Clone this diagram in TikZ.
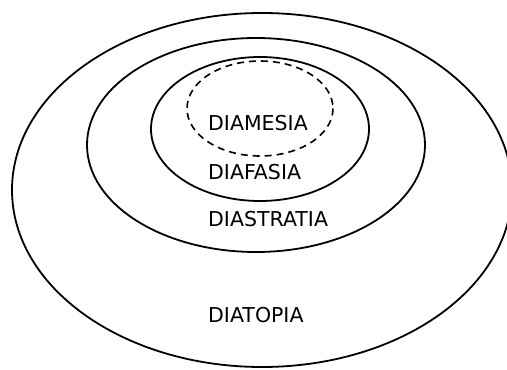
\documentclass[tikz,border=0pt]{standalone}
\usepackage{fontspec}
\setmainfont{DejaVu Sans}
\begin{document}
\begin{tikzpicture}[x=1pt,y=-1pt,
  ring/.style={line width=1.8pt, black},
  dashring/.style={line width=1.6pt, black, dash pattern=on 7pt off 5pt},
  lab/.style={anchor=west, inner sep=0pt, font=\fontsize{20.5}{24}\selectfont, text height=15pt, text depth=0pt}]
\useasboundingbox (0,0) rectangle (507,370);
\clip (0,0) rectangle (507,370);
\fill[white] (0,0) rectangle (507,370);
\draw[ring] (262,190) ellipse [x radius=250, y radius=177];
\draw[ring] (256,145) ellipse [x radius=169, y radius=107];
\draw[ring] (260,129) ellipse [x radius=109, y radius=72];
\draw[dashring] (260,108.5) ellipse [x radius=73, y radius=47.5];
\node[lab] (diamesia) at (208,123) {DIAMESIA};
\node[lab] (diafasia) at (208,172) {DIAFASIA};
\node[lab] (diastratia) at (208,219) {DIASTRATIA};
\node[lab] (diatopia) at (208,315) {DIATOPIA};
\end{tikzpicture}
\end{document}
